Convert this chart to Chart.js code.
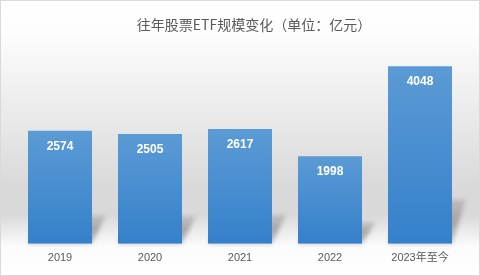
<!DOCTYPE html>
<html>
<head>
<meta charset="utf-8">
<script src="https://cdn.jsdelivr.net/npm/chart.js@4"></script>
<style>
  html, body { margin: 0; padding: 0; background: #fff; }
  #wrap { width: 480px; height: 276px; }
</style>
</head>
<body>
<div id="wrap"><canvas id="myChart" width="480" height="276"></canvas></div>
<script>
// 往年股票ETF规模（亿元）
const years = ['2019', '2020', '2021', '2022', '2023年至今'];
const sizes = [2574, 2505, 2617, 1998, 4048];
const chartTitle = '往年股票ETF规模变化（单位：亿元）';

// background: white top, gray "floor", then white under the axis
const backdrop = {
  id: 'backdrop',
  beforeDraw(chart) {
    const c = chart.ctx;
    const w = chart.width, h = chart.height;
    const g = c.createLinearGradient(0, 0, 0, h);
    g.addColorStop(0, '#ffffff');
    g.addColorStop(0.12, '#fdfdfd');
    g.addColorStop(0.68, '#d9d9d9');
    g.addColorStop(0.78, '#d9d9d9');
    g.addColorStop(0.89, '#fbfbfb');
    g.addColorStop(1, '#ffffff');
    c.save();
    c.fillStyle = g;
    c.fillRect(0, 0, w, h);
    c.strokeStyle = '#d9d9d9';
    c.lineWidth = 1;
    c.strokeRect(0.5, 0.5, w - 1, h - 1);
    // title, sits a little right of centre like the original
    c.fillStyle = '#595959';
    c.font = '14px "Noto Sans CJK SC", "Liberation Sans", sans-serif';
    c.textAlign = 'center';
    c.textBaseline = 'middle';
    c.fillText(chartTitle, 254, 25);
    c.restore();
  },
  beforeDatasetsDraw(chart) {
    // soft slanted shadow behind each bar
    const c = chart.ctx;
    const meta = chart.getDatasetMeta(0);
    c.save();
    c.filter = 'blur(2px)';
    meta.data.forEach(bar => {
      const left = bar.x - bar.width / 2, right = bar.x + bar.width / 2;
      const bottom = bar.base;
      const sh = (bottom - bar.y) * 0.25;
      const g = c.createLinearGradient(0, bottom - sh, 0, bottom);
      g.addColorStop(0, 'rgba(150,150,150,0.4)');
      g.addColorStop(0.5, 'rgba(150,150,150,0.8)');
      g.addColorStop(1, 'rgba(160,160,160,0.6)');
      c.fillStyle = g;
      c.beginPath();
      c.moveTo(left, bottom);
      c.lineTo(right, bottom);
      c.lineTo(right + 14, bottom - sh);
      c.lineTo(left + 14, bottom - sh);
      c.closePath();
      c.fill();
    });
    c.restore();
  },
  afterDatasetsDraw(chart) {
    const c = chart.ctx;
    const meta = chart.getDatasetMeta(0);
    c.save();
    c.fillStyle = '#ffffff';
    c.font = 'bold 12px "Liberation Sans", Arial, sans-serif';
    c.textAlign = 'center';
    c.textBaseline = 'middle';
    meta.data.forEach((bar, i) => {
      c.fillText(String(sizes[i]), bar.x, bar.y + 16);
    });
    c.restore();
  }
};

function barGradient(ctx) {
  const chart = ctx.chart;
  if (!chart.chartArea) return '#4a8fd2';
  const y = chart.scales.y;
  const top = y.getPixelForValue(ctx.raw);
  const bottom = y.getPixelForValue(0);
  const g = chart.ctx.createLinearGradient(0, top, 0, bottom);
  g.addColorStop(0, '#5b9bd5');
  g.addColorStop(1, '#3580cb');
  return g;
}

new Chart(document.getElementById('myChart'), {
  type: 'bar',
  data: {
    labels: years,
    datasets: [{
      data: sizes,
      backgroundColor: barGradient,
      borderWidth: 0,
      barPercentage: 0.711,
      categoryPercentage: 1
    }]
  },
  options: {
    responsive: false,
    animation: false,
    layout: { padding: { left: 15, right: 15, top: 38, bottom: 11 } },
    plugins: {
      legend: { display: false },
      tooltip: { enabled: false },
      title: { display: false }
    },
    scales: {
      x: {
        grid: { display: false },
        border: { display: false },
        ticks: {
          color: '#595959',
          padding: 0,
          font: { family: '"Liberation Sans", "Noto Sans CJK SC", sans-serif', size: 11 }
        }
      },
      y: {
        display: false,
        min: 0,
        max: 4690
      }
    }
  },
  plugins: [backdrop]
});
</script>
</body>
</html>
